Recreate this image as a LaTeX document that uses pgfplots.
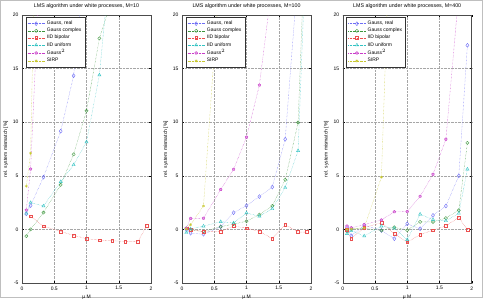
\documentclass[border=0pt]{standalone}
\usepackage{fontspec}
\setmainfont{Liberation Sans}
\usepackage{pgfplots}
\pgfplotsset{compat=1.18}
\definecolor{cB}{RGB}{110,110,245}
\definecolor{cG}{RGB}{60,150,60}
\definecolor{cR}{RGB}{235,80,80}
\definecolor{cC}{RGB}{50,195,195}
\definecolor{cM}{RGB}{200,60,200}
\definecolor{cY}{RGB}{200,200,50}
\pgfplotsset{
  panel/.style={
    scale only axis, width=129pt, height=268pt,
    xmin=0, xmax=2, ymin=-5, ymax=20,
    xtick={0,0.5,1,1.5,2}, ytick={-5,0,5,10,15,20},
    grid=major, major grid style={densely dotted, gray!70, line width=0.4pt},
    tick align=inside, major tick length=2pt, tick style={black, line width=0.3pt},
    axis line style={line width=0.4pt, black!70},
    tick label style={font=\fontsize{5}{6}\selectfont},
    /pgf/number format/assume math mode=true,
    xlabel={μ M}, ylabel={rel. system mismatch [\%]},
    label style={font=\fontsize{5}{6}\selectfont},
    xlabel style={yshift=2pt},
    ylabel style={yshift=-2pt},
    title style={font=\fontsize{5.3}{6}\selectfont, yshift=-3pt},
    legend cell align=left,
    legend style={at={(axis description cs:0.029,0.991)}, anchor=north west,
      font=\fontsize{5}{6}\selectfont, draw=black!80, line width=0.4pt,
      inner sep=1.5pt, row sep=-2pt},
    every axis plot/.append style={densely dotted, line width=0.4pt, mark size=1.6pt,
      mark options={solid}},
  },
  sB/.style={color=cB, mark=diamond, mark size=2pt},
  sG/.style={color=cG, mark=o, mark size=1.6pt},
  sR/.style={color=cR, mark=square, mark size=1.4pt},
  sC/.style={color=cC, mark=triangle, mark size=1.8pt},
  sM/.style={color=cM, mark=pentagon*, mark options={solid, fill=cM!50}, mark size=1.4pt},
  sY/.style={color=cY, mark=asterisk, mark size=1.5pt},
}
\begin{document}
\begin{tikzpicture}
\useasboundingbox (0,0) rectangle (483pt,298pt);
\draw[gray!50, line width=0.6pt] (0.3pt,0.3pt) rectangle (482.7pt,297.7pt);
% Panel 1
\begin{axis}[panel, at={(22pt,15pt)}, anchor=south west,
  title={LMS algorithm under white processes, M=10}]
\addplot[sB] coordinates {(0.0667,1.45)(0.1333,2.22)(0.3333,4.88)(0.6,9.16)(0.8,14.33)(1.0,27)};
\addplot[sG] coordinates {(0.0667,-0.63)(0.1333,0)(0.3333,1.57)(0.6,4.15)(0.8,7.0)(1.0,11.06)(1.2,17.82)(1.4,21.6)};
\addplot[sR] coordinates {(0.1333,1.23)(0.3333,0.3)(0.6,-0.19)(0.8,-0.56)(1.0,-0.87)(1.2,-1.0)(1.4,-1.06)(1.6,-1.12)(1.8,-1.12)(1.9333,0.37)};
\addplot[sC] coordinates {(0.0667,1.5)(0.1333,2.5)(0.3333,2.18)(0.6,4.45)(0.8,6.02)(1.0,8.16)(1.2,14.4)(1.4,27)};
\addplot[sM] coordinates {(0.0667,1.8)(0.1333,5.63)(0.3333,32)};
\addplot[sY] coordinates {(0.0667,4.03)(0.1333,7.1)(0.3333,65)};
\legend{Gauss{,} real, Gauss complex, IID bipolar, IID uniform, Gauss$^2$, SIRP}
\end{axis}
% Panel 2
\begin{axis}[panel, at={(182pt,15pt)}, anchor=south west,
  title={LMS algorithm under white processes, M=100}]
\addplot[sB] coordinates {(0.0667,0.0)(0.1333,-0.35)(0.3333,-0.45)(0.6,0.25)(0.8,1.56)(1.0,2.22)(1.2,3.06)(1.4,3.95)(1.6,8.41)(1.8,24)};
\addplot[sG] coordinates {(0.0667,0.1)(0.1333,-0.05)(0.3333,-0.2)(0.6,0.25)(0.8,0.5)(1.0,0.76)(1.2,1.38)(1.4,2.19)(1.6,4.63)(1.8,9.97)(1.9333,31)};
\addplot[sR] coordinates {(0.0667,0.12)(0.1333,0)(0.3333,-0.22)(0.6,-0.2)(0.8,0.31)(1.0,0.12)(1.2,-0.18)(1.4,-0.86)(1.6,0.44)(1.8,-0.25)(1.9333,-0.25)};
\addplot[sC] coordinates {(0.0667,-0.3)(0.1333,0.05)(0.3333,0.3)(0.6,0.72)(0.8,0.6)(1.0,1.53)(1.2,1.23)(1.4,1.92)(1.6,3.9)(1.8,7.34)(1.9333,28)};
\addplot[sM] coordinates {(0.0667,0.1)(0.1333,1.02)(0.3333,1.04)(0.6,3.72)(0.8,5.6)(1.0,8.6)(1.2,13.46)(1.4,23)};
\addplot[sY] coordinates {(0.0667,0.05)(0.1333,0.44)(0.3333,2.19)(0.6,25)};
\legend{Gauss{,} real, Gauss complex, IID bipolar, IID uniform, Gauss$^2$, SIRP}
\end{axis}
% Panel 3
\begin{axis}[panel, at={(342.7pt,15pt)}, anchor=south west,
  title={LMS algorithm under white processes, M=400}]
\addplot[sB] coordinates {(0.0667,0.2)(0.1333,-0.6)(0.3333,0.4)(0.6,-0.1)(0.8,-0.87)(1.0,0.52)(1.2,0.06)(1.4,1.31)(1.6,2.18)(1.8,5.0)(1.9333,17.17)};
\addplot[sG] coordinates {(0.0667,-0.2)(0.1333,0.05)(0.3333,0.1)(0.6,-0.1)(0.8,0.2)(1.0,-0.08)(1.2,0.7)(1.4,0.7)(1.6,1.06)(1.8,1.78)(1.9333,8.07)};
\addplot[sR] coordinates {(0.0667,-0.05)(0.1333,-0.85)(0.3333,0.17)(0.6,0.62)(0.8,-0.4)(1.0,-1.2)(1.2,-0.48)(1.4,-0.08)(1.6,0.33)(1.8,1.12)(1.9333,-0.05)};
\addplot[sC] coordinates {(0.0667,-0.4)(0.1333,-0.1)(0.3333,-0.62)(0.6,0.3)(0.8,0.1)(1.0,-0.96)(1.2,1.42)(1.4,0.9)(1.6,0.8)(1.8,1.5)(1.9333,5.62)};
\addplot[sM] coordinates {(0.0667,0.31)(0.1333,0.15)(0.3333,0.44)(0.6,0.88)(0.8,1.64)(1.0,1.66)(1.2,3.08)(1.4,5.14)(1.6,8.41)(1.8,22)};
\addplot[sY] coordinates {(0.0667,0.0)(0.1333,0.05)(0.3333,0.15)(0.6,4.87)(0.8,40)};
\legend{Gauss{,} real, Gauss complex, IID bipolar, IID uniform, Gauss$^2$, SIRP}
\end{axis}
\end{tikzpicture}
\end{document}
